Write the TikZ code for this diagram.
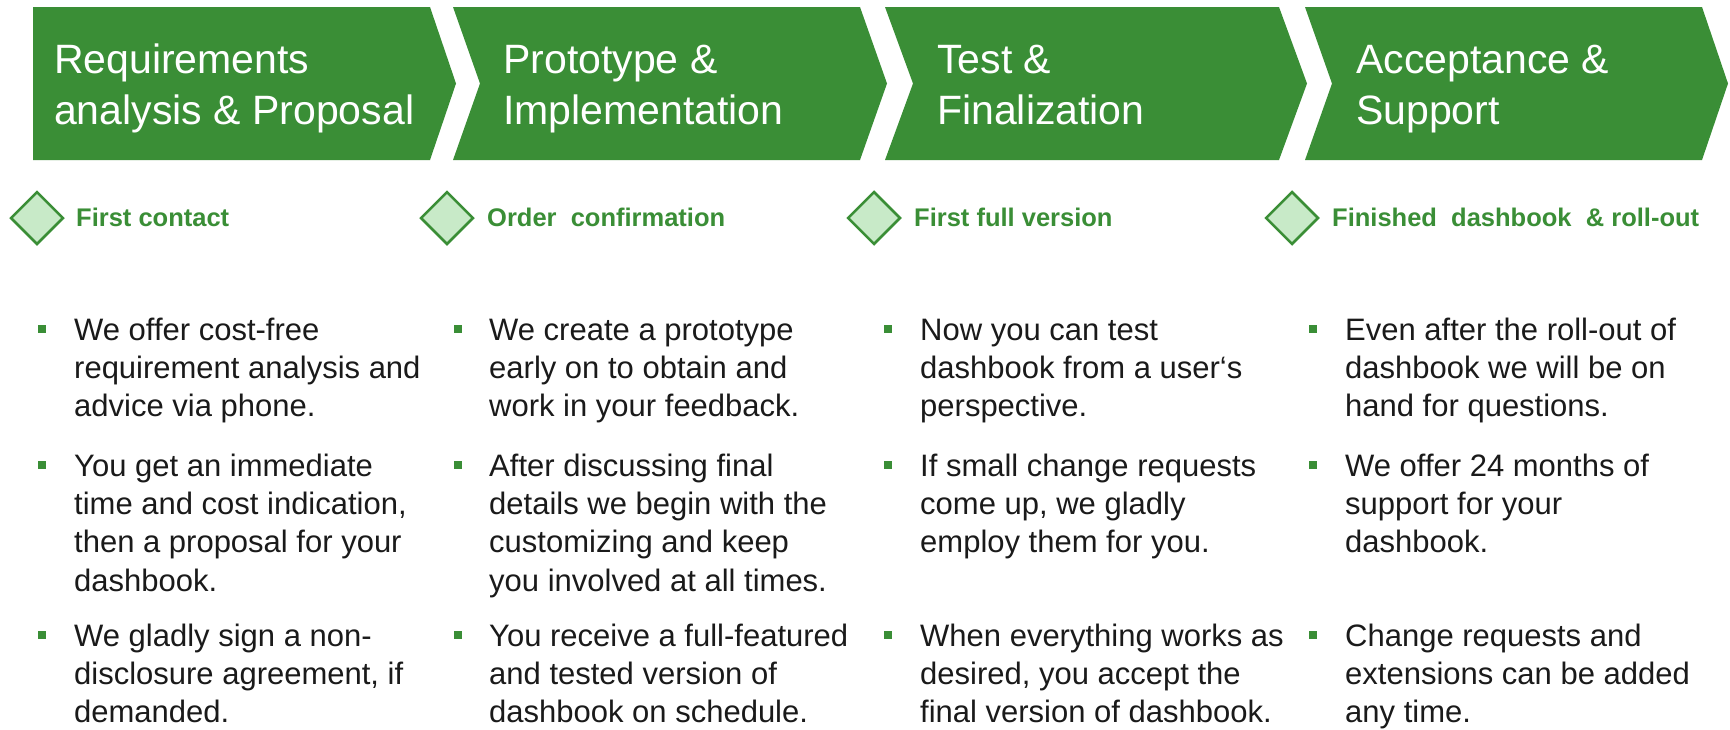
\documentclass[tikz,border=0pt]{standalone}
\usepackage{fontspec}
\setmainfont{Liberation Sans}
\usetikzlibrary{shapes.geometric}
\definecolor{mgreen}{HTML}{3A8E36}
\definecolor{lgreen}{HTML}{C8EAC8}
\definecolor{txtcol}{HTML}{1A1A1A}
\begin{document}
\begin{tikzpicture}[x=1pt,y=-1pt,
  chev/.style={fill=mgreen, draw=none},
  titletext/.style={anchor=base west, inner sep=0pt, text=white, align=left, font=\fontsize{41}{51}\selectfont},
  milestone/.style={diamond, aspect=1, draw=mgreen, line width=2.5pt, fill=lgreen, minimum width=53pt, minimum height=53pt, inner sep=0pt},
  miletext/.style={anchor=base west, inner sep=0pt, text=mgreen, font=\fontsize{25.5}{30}\selectfont\bfseries},
  bulletsq/.style={rectangle, fill=mgreen, draw=none, minimum size=8.5pt, inner sep=0pt},
  btext/.style={anchor=base west, inner sep=0pt, text=txtcol, align=left, font=\fontsize{31}{38.4}\selectfont},
]
\fill[white] (0,0) rectangle (1730,729);
\useasboundingbox (0,0) rectangle (1730,729);

% chevrons
\fill[chev] (33,7) -- (430,7) -- (456,83.5) -- (430,160) -- (33,160) -- cycle;
\fill[chev] (453,7) -- (860,7) -- (887,83.5) -- (860,160) -- (453,160) -- (480,83.5) -- cycle;
\fill[chev] (885,7) -- (1279,7) -- (1307,83.5) -- (1279,160) -- (885,160) -- (913,83.5) -- cycle;
\fill[chev] (1305,7) -- (1702,7) -- (1728,83.5) -- (1702,160) -- (1305,160) -- (1332,83.5) -- cycle;

% titles (anchor = baseline of the last line)
\node[titletext] (h1) at (54,124) {Requirements\\analysis \& Proposal};
\node[titletext] (h2) at (503,124) {Prototype \&\\Implementation};
\node[titletext] (h3) at (937,124) {Test \&\\Finalization};
\node[titletext] (h4) at (1356,124) {Acceptance \&\\Support};

% milestones
\node[milestone] (d1) at (37,218) {};
\node[milestone] (d2) at (447,218) {};
\node[milestone] (d3) at (874,218) {};
\node[milestone] (d4) at (1292,218) {};
\node[miletext] (m1) at (76,226) {First contact};
\node[miletext] (m2) at (487,226) {Order\ \ confirmation};
\node[miletext] (m3) at (914,226) {First full version};
\node[miletext] (m4) at (1332,226) {Finished\ \ dashbook\ \ \& roll-out};

% column 1
\node[bulletsq] (b11) at (42,329) {};
\node[btext] (t11) at (74,416.8) {We offer cost-free\\requirement analysis and\\advice via phone.};
\node[bulletsq] (b12) at (42,465) {};
\node[btext] (t12) at (74,591.2) {You get an immediate\\time and cost indication,\\then a proposal for your\\dashbook.};
\node[bulletsq] (b13) at (42,635) {};
\node[btext] (t13) at (74,722.8) {We gladly sign a non-\\disclosure agreement, if\\demanded.};

% column 2
\node[bulletsq] (b21) at (458,329) {};
\node[btext] (t21) at (489,416.8) {We create a prototype\\early on to obtain and\\work in your feedback.};
\node[bulletsq] (b22) at (458,465) {};
\node[btext] (t22) at (489,591.2) {After discussing final\\details we begin with the\\customizing and keep\\you involved at all times.};
\node[bulletsq] (b23) at (458,635) {};
\node[btext] (t23) at (489,722.8) {You receive a full-featured\\and tested version of\\dashbook on schedule.};

% column 3
\node[bulletsq] (b31) at (888,329) {};
\node[btext] (t31) at (920,416.8) {Now you can test\\dashbook from a user‘s\\perspective.};
\node[bulletsq] (b32) at (888,465) {};
\node[btext] (t32) at (920,552.8) {If small change requests\\come up, we gladly\\employ them for you.};
\node[bulletsq] (b33) at (888,635) {};
\node[btext] (t33) at (920,722.8) {When everything works as\\desired, you accept the\\final version of dashbook.};

% column 4
\node[bulletsq] (b41) at (1313,329) {};
\node[btext] (t41) at (1345,416.8) {Even after the roll-out of\\dashbook we will be on\\hand for questions.};
\node[bulletsq] (b42) at (1313,465) {};
\node[btext] (t42) at (1345,552.8) {We offer 24 months of\\support for your\\dashbook.};
\node[bulletsq] (b43) at (1313,635) {};
\node[btext] (t43) at (1345,722.8) {Change requests and\\extensions can be added\\any time.};
\end{tikzpicture}
\end{document}
